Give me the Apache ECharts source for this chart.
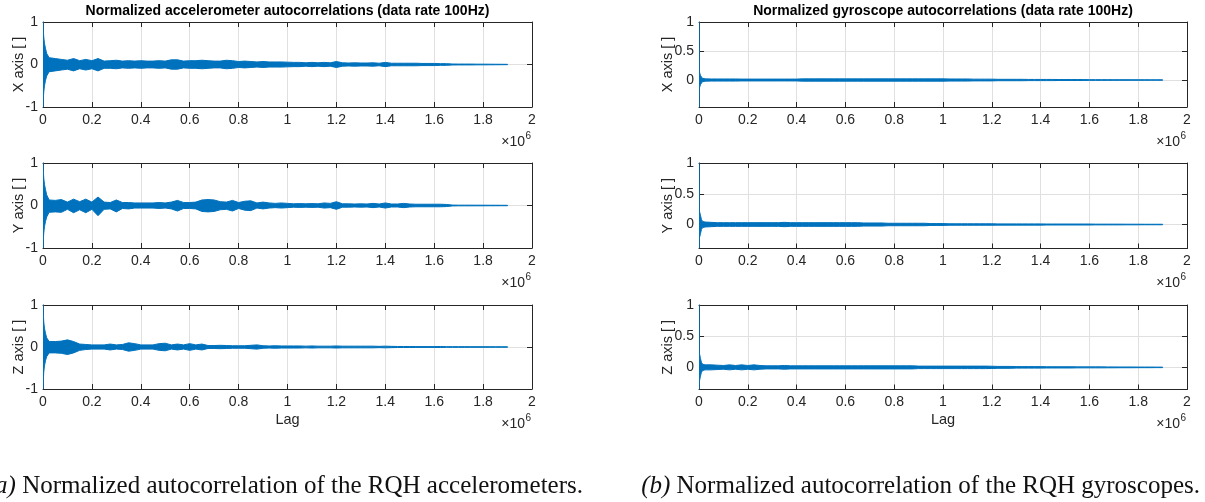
<!DOCTYPE html>
<html><head><meta charset="utf-8">
<script src="https://cdn.jsdelivr.net/npm/echarts@6/dist/echarts.min.js"></script>
<style>html,body{margin:0;padding:0;background:#fff}#c{width:1205px;height:502px}</style>
</head><body><div id="c"></div>
<script>
// Lag positions (units of 10^6)
const LAG = [0,0.001,0.003,0.006,0.01,0.015,
0.025,0.05,0.075,0.1,0.125,0.15,0.175,0.2,0.225,0.25,
0.275,0.3,0.325,0.35,0.375,0.4,0.425,0.45,0.475,0.5,
0.525,0.55,0.575,0.6,0.625,0.65,0.675,0.7,0.725,0.75,
0.775,0.8,0.825,0.85,0.875,0.9,0.925,0.95,0.975,1.0,
1.025,1.05,1.075,1.1,1.125,1.15,1.175,1.2,1.225,1.25,
1.275,1.3,1.325,1.35,1.375,1.4,1.425,1.45,1.475,1.5,
1.525,1.55,1.575,1.6,1.625,1.65,1.675,1.7,1.725,1.75,
1.775,1.8,1.825,1.85,1.875,1.9];

// Accelerometer autocorrelation envelopes (upper / lower)
const ACC_X_HI = [1,0.85,0.65,0.5,0.38,0.26,
0.16,0.14,0.12,0.1,0.14,0.09,0.12,0.09,0.14,0.08,
0.09,0.1,0.08,0.09,0.08,0.09,0.08,0.08,0.09,0.08,
0.11,0.11,0.08,0.09,0.09,0.1,0.09,0.08,0.08,0.1,
0.09,0.07,0.08,0.07,0.06,0.07,0.06,0.06,0.06,0.055,
0.05,0.05,0.04,0.05,0.04,0.05,0.04,0.07,0.04,0.035,
0.04,0.035,0.035,0.04,0.03,0.05,0.03,0.03,0.03,0.03,
0.03,0.025,0.025,0.025,0.02,0.02,0.012,0.01,0.01,0.01,
0.008,0.008,0.007,0.006,0.005,0.004];
const ACC_X_LO = [-1,-0.85,-0.65,-0.5,-0.38,-0.27,
-0.17,-0.15,-0.13,-0.11,-0.15,-0.1,-0.13,-0.1,-0.15,-0.09,
-0.09,-0.1,-0.08,-0.09,-0.08,-0.09,-0.08,-0.08,-0.09,-0.08,
-0.11,-0.11,-0.08,-0.09,-0.09,-0.1,-0.09,-0.08,-0.08,-0.1,
-0.09,-0.07,-0.08,-0.07,-0.06,-0.07,-0.06,-0.06,-0.06,-0.055,
-0.05,-0.05,-0.04,-0.05,-0.04,-0.05,-0.04,-0.07,-0.04,-0.035,
-0.04,-0.035,-0.035,-0.04,-0.03,-0.05,-0.03,-0.03,-0.03,-0.03,
-0.03,-0.025,-0.025,-0.025,-0.02,-0.02,-0.012,-0.01,-0.01,-0.01,
-0.008,-0.008,-0.007,-0.006,-0.005,-0.004];
const ACC_Y_HI = [1,0.85,0.65,0.5,0.38,0.25,
0.13,0.12,0.14,0.08,0.15,0.09,0.15,0.08,0.2,0.08,
0.07,0.13,0.07,0.07,0.06,0.06,0.06,0.06,0.07,0.06,
0.08,0.12,0.07,0.07,0.08,0.13,0.14,0.13,0.09,0.08,
0.12,0.07,0.1,0.11,0.06,0.08,0.06,0.05,0.06,0.05,
0.04,0.045,0.04,0.045,0.04,0.06,0.05,0.09,0.04,0.04,
0.035,0.04,0.035,0.05,0.035,0.06,0.035,0.035,0.05,0.035,
0.03,0.03,0.03,0.03,0.03,0.025,0.01,0.008,0.008,0.008,
0.007,0.007,0.006,0.006,0.005,0.005];
const ACC_Y_LO = [-1,-0.85,-0.65,-0.5,-0.38,-0.27,
-0.16,-0.15,-0.16,-0.09,-0.17,-0.1,-0.17,-0.09,-0.24,-0.09,
-0.08,-0.15,-0.07,-0.08,-0.06,-0.06,-0.06,-0.06,-0.07,-0.06,
-0.08,-0.13,-0.07,-0.07,-0.08,-0.14,-0.15,-0.14,-0.1,-0.09,
-0.13,-0.07,-0.11,-0.12,-0.06,-0.08,-0.06,-0.05,-0.06,-0.05,
-0.04,-0.045,-0.04,-0.045,-0.04,-0.06,-0.05,-0.09,-0.04,-0.04,
-0.035,-0.04,-0.035,-0.05,-0.035,-0.06,-0.035,-0.035,-0.05,-0.035,
-0.03,-0.03,-0.03,-0.03,-0.03,-0.025,-0.01,-0.008,-0.008,-0.008,
-0.007,-0.007,-0.006,-0.006,-0.005,-0.005];
const ACC_Z_HI = [1,0.85,0.6,0.45,0.33,0.22,
0.13,0.13,0.14,0.17,0.13,0.07,0.06,0.05,0.05,0.05,
0.07,0.05,0.06,0.1,0.08,0.05,0.05,0.05,0.08,0.09,
0.05,0.07,0.05,0.08,0.05,0.07,0.035,0.035,0.04,0.035,
0.03,0.03,0.03,0.04,0.05,0.03,0.025,0.03,0.025,0.025,
0.025,0.025,0.02,0.025,0.02,0.02,0.02,0.025,0.02,0.02,
0.02,0.02,0.02,0.02,0.015,0.02,0.015,0.012,0.012,0.012,
0.01,0.01,0.01,0.01,0.012,0.008,0.008,0.008,0.008,0.007,
0.007,0.006,0.006,0.005,0.005,0.004];
const ACC_Z_LO = [-1,-0.85,-0.6,-0.45,-0.33,-0.23,
-0.14,-0.14,-0.15,-0.18,-0.14,-0.08,-0.06,-0.05,-0.05,-0.05,
-0.07,-0.05,-0.06,-0.1,-0.08,-0.05,-0.05,-0.05,-0.08,-0.09,
-0.05,-0.07,-0.05,-0.08,-0.05,-0.07,-0.035,-0.035,-0.04,-0.035,
-0.03,-0.03,-0.03,-0.04,-0.05,-0.03,-0.025,-0.03,-0.025,-0.025,
-0.025,-0.025,-0.02,-0.025,-0.02,-0.02,-0.02,-0.025,-0.02,-0.02,
-0.02,-0.02,-0.02,-0.02,-0.015,-0.02,-0.015,-0.012,-0.012,-0.012,
-0.01,-0.01,-0.01,-0.01,-0.012,-0.008,-0.008,-0.008,-0.008,-0.007,
-0.007,-0.006,-0.006,-0.005,-0.005,-0.004];

// Gyroscope autocorrelation envelopes (upper / lower)
const GYR_X_HI = [1,0.17,0.12,0.08,0.05,0.03,
0.02,0.018,0.018,0.018,0.018,0.018,0.016,0.016,0.016,0.016,
0.016,0.016,0.016,0.016,0.016,0.016,0.02,0.02,0.02,0.02,
0.02,0.02,0.02,0.02,0.02,0.02,0.02,0.02,0.02,0.02,
0.02,0.02,0.02,0.02,0.02,0.02,0.02,0.02,0.02,0.02,
0.018,0.018,0.018,0.018,0.015,0.015,0.015,0.015,0.012,0.012,
0.012,0.012,0.012,0.01,0.01,0.01,0.01,0.01,0.008,0.008,
0.008,0.008,0.008,0.006,0.006,0.006,0.006,0.005,0.005,0.005,
0.004,0.004,0.004,0.003,0.003,0.003];
const GYR_X_LO = [-0.465,-0.15,-0.12,-0.08,-0.05,-0.03,
-0.02,-0.018,-0.018,-0.018,-0.018,-0.018,-0.016,-0.016,-0.016,-0.016,
-0.016,-0.016,-0.016,-0.016,-0.016,-0.016,-0.02,-0.02,-0.02,-0.02,
-0.02,-0.02,-0.02,-0.02,-0.02,-0.02,-0.02,-0.02,-0.02,-0.02,
-0.02,-0.02,-0.02,-0.02,-0.02,-0.02,-0.02,-0.02,-0.02,-0.02,
-0.018,-0.018,-0.018,-0.018,-0.015,-0.015,-0.015,-0.015,-0.012,-0.012,
-0.012,-0.012,-0.012,-0.01,-0.01,-0.01,-0.01,-0.01,-0.008,-0.008,
-0.008,-0.008,-0.008,-0.006,-0.006,-0.006,-0.006,-0.005,-0.005,-0.005,
-0.004,-0.004,-0.004,-0.003,-0.003,-0.003];
const GYR_Y_HI = [1,0.22,0.2,0.15,0.08,0.05,
0.04,0.035,0.03,0.03,0.03,0.03,0.03,0.03,0.03,0.03,
0.03,0.03,0.03,0.035,0.03,0.03,0.03,0.03,0.03,0.03,
0.03,0.03,0.03,0.03,0.03,0.03,0.025,0.025,0.025,0.025,
0.02,0.02,0.02,0.02,0.02,0.02,0.02,0.015,0.015,0.015,
0.012,0.012,0.012,0.012,0.012,0.012,0.012,0.012,0.01,0.01,
0.01,0.01,0.01,0.01,0.01,0.01,0.008,0.008,0.008,0.008,
0.008,0.008,0.008,0.008,0.006,0.006,0.006,0.006,0.006,0.005,
0.005,0.005,0.004,0.004,0.004,0.004];
const GYR_Y_LO = [-0.39,-0.22,-0.2,-0.15,-0.08,-0.05,
-0.04,-0.035,-0.03,-0.03,-0.03,-0.03,-0.03,-0.03,-0.03,-0.03,
-0.03,-0.03,-0.03,-0.035,-0.03,-0.03,-0.03,-0.03,-0.03,-0.03,
-0.03,-0.03,-0.03,-0.03,-0.03,-0.03,-0.025,-0.025,-0.025,-0.025,
-0.02,-0.02,-0.02,-0.02,-0.02,-0.02,-0.02,-0.015,-0.015,-0.015,
-0.012,-0.012,-0.012,-0.012,-0.012,-0.012,-0.012,-0.012,-0.01,-0.01,
-0.01,-0.01,-0.01,-0.01,-0.01,-0.01,-0.008,-0.008,-0.008,-0.008,
-0.008,-0.008,-0.008,-0.008,-0.006,-0.006,-0.006,-0.006,-0.006,-0.005,
-0.005,-0.005,-0.004,-0.004,-0.004,-0.004];
const GYR_Z_HI = [1,0.25,0.2,0.14,0.08,0.05,
0.04,0.04,0.035,0.03,0.04,0.03,0.04,0.03,0.04,0.03,
0.025,0.025,0.025,0.03,0.025,0.025,0.025,0.025,0.025,0.025,
0.025,0.025,0.025,0.025,0.025,0.025,0.025,0.025,0.025,0.025,
0.025,0.025,0.025,0.025,0.025,0.02,0.02,0.02,0.02,0.02,
0.02,0.02,0.02,0.02,0.02,0.02,0.02,0.018,0.015,0.015,
0.015,0.012,0.012,0.012,0.012,0.012,0.01,0.01,0.01,0.01,
0.01,0.008,0.008,0.008,0.008,0.008,0.007,0.007,0.006,0.006,
0.006,0.005,0.005,0.005,0.004,0.004];
const GYR_Z_LO = [-0.355,-0.23,-0.2,-0.14,-0.08,-0.05,
-0.04,-0.04,-0.035,-0.03,-0.04,-0.03,-0.04,-0.03,-0.04,-0.03,
-0.025,-0.025,-0.025,-0.03,-0.025,-0.025,-0.025,-0.025,-0.025,-0.025,
-0.025,-0.025,-0.025,-0.025,-0.025,-0.025,-0.025,-0.025,-0.025,-0.025,
-0.025,-0.025,-0.025,-0.025,-0.025,-0.02,-0.02,-0.02,-0.02,-0.02,
-0.02,-0.02,-0.02,-0.02,-0.02,-0.02,-0.02,-0.018,-0.015,-0.015,
-0.015,-0.012,-0.012,-0.012,-0.012,-0.012,-0.01,-0.01,-0.01,-0.01,
-0.01,-0.008,-0.008,-0.008,-0.008,-0.008,-0.007,-0.007,-0.006,-0.006,
-0.006,-0.005,-0.005,-0.005,-0.004,-0.004];

const X_TICKS = [0,0.2,0.4,0.6,0.8,1,1.2,1.4,1.6,1.8,2];
const Y_TICKS_ACC = [-1,0,1];
const Y_TICKS_GYR = [0,0.5,1];
const Y_NAMES = ['X axis [ ]','Y axis [ ]','Z axis [ ]'];
const TITLE_ACC = 'Normalized accelerometer autocorrelations (data rate 100Hz)';
const TITLE_GYR = 'Normalized gyroscope autocorrelations (data rate 100Hz)';
const X_NAME = 'Lag';
const CAPTION_A = ['(a)', 'Normalized autocorrelation of the RQH accelerometers.'];
const CAPTION_B = ['(b)', 'Normalized autocorrelation of the RQH gyroscopes.'];

const FONT = '"Liberation Sans", Arial, Helvetica, sans-serif';
const SERIF = '"Liberation Serif", "Times New Roman", serif';
const AX = '#262626';
const GRIDC = '#e0e0e0';
const BLUE = '#0072BD';

const panels = [
  {left:43, width:489, top:22, height:85, hi:ACC_X_HI, lo:ACC_X_LO, ymin:-1, yt:Y_TICKS_ACC, name:Y_NAMES[0]},
  {left:43, width:489, top:163, height:85, hi:ACC_Y_HI, lo:ACC_Y_LO, ymin:-1, yt:Y_TICKS_ACC, name:Y_NAMES[1]},
  {left:43, width:489, top:305, height:84, hi:ACC_Z_HI, lo:ACC_Z_LO, ymin:-1, yt:Y_TICKS_ACC, name:Y_NAMES[2]},
  {left:699, width:488, top:22, height:85, hi:GYR_X_HI, lo:GYR_X_LO, ymin:-0.465, yt:Y_TICKS_GYR, name:Y_NAMES[0]},
  {left:699, width:488, top:163, height:85.5, hi:GYR_Y_HI, lo:GYR_Y_LO, ymin:-0.39, yt:Y_TICKS_GYR, name:Y_NAMES[1]},
  {left:699, width:488, top:305, height:84.5, hi:GYR_Z_HI, lo:GYR_Z_LO, ymin:-0.355, yt:Y_TICKS_GYR, name:Y_NAMES[2]}
];

const fmt = v => String(+(+v).toFixed(2));
const grid = [], xAxis = [], yAxis = [], series = [], graphic = [];
const lineS = {show:true, onZero:false, lineStyle:{color:AX, width:1}};

panels.forEach((p, i) => {
  grid.push({left:p.left, top:p.top, width:p.width, height:p.height, show:false});
  xAxis.push({type:'value', gridIndex:i, min:0, max:2, position:'bottom',
    axisLine:lineS,
    axisTick:{inside:true, length:5, customValues:X_TICKS, lineStyle:{color:AX}},
    axisLabel:{customValues:X_TICKS, formatter:fmt, color:AX, fontSize:14, fontFamily:FONT, margin:6},
    splitLine:{show:true, lineStyle:{color:GRIDC, width:1}}});
  xAxis.push({type:'value', gridIndex:i, min:0, max:2, position:'top',
    axisLine:lineS,
    axisTick:{inside:true, length:5, customValues:X_TICKS, lineStyle:{color:AX}},
    axisLabel:{show:false}, splitLine:{show:false}});
  yAxis.push({type:'value', gridIndex:i, min:p.ymin, max:1, position:'left',
    axisLine:lineS,
    axisTick:{inside:true, length:5, customValues:p.yt, lineStyle:{color:AX}},
    axisLabel:{customValues:p.yt, formatter:fmt, color:AX, fontSize:14, fontFamily:FONT, margin:5},
    splitLine:{show:true, lineStyle:{color:GRIDC, width:1}}});
  yAxis.push({type:'value', gridIndex:i, min:p.ymin, max:1, position:'right',
    axisLine:lineS,
    axisTick:{inside:true, length:5, customValues:p.yt, lineStyle:{color:AX}},
    axisLabel:{show:false}, splitLine:{show:false}});
  const hi = p.hi, lo = p.lo;
  series.push({
    type:'custom', xAxisIndex:2*i, yAxisIndex:2*i, clip:true, z:3,
    encode:{x:0, y:[1,2]},
    data: LAG.map((l, k) => [l, lo[k], hi[k]]),
    renderItem: function (params, api) {
      if (params.dataIndex !== 0) return null;
      const pts = [];
      for (let k = 0; k < LAG.length; k++) pts.push(api.coord([LAG[k], hi[k]]));
      for (let k = LAG.length - 1; k >= 0; k--) pts.push(api.coord([LAG[k], lo[k]]));
      return {type:'polygon', shape:{points:pts}, style:{fill:BLUE, stroke:BLUE, lineWidth:1}};
    }
  });
  const ylx = p.left < 300 ? 18.5 : 668;
  graphic.push({type:'text', x:ylx, y:p.top + p.height/2, rotation:Math.PI/2,
    style:{text:p.name, fontSize:14.5, fontFamily:FONT, fill:AX, align:'center', verticalAlign:'middle', textAlign:'center', textVerticalAlign:'middle'}});
  const ex = p.left + p.width - 7;
  const ey = p.top + p.height + 35;
  graphic.push({type:'text', x:ex, y:ey,
    style:{text:'\u00d710', fontSize:14, fontFamily:FONT, fill:AX, align:'right', verticalAlign:'middle', textAlign:'right', textVerticalAlign:'middle'}});
  graphic.push({type:'text', x:ex + 0.5, y:ey - 6,
    style:{text:'6', fontSize:10, fontFamily:FONT, fill:AX, align:'left', verticalAlign:'middle', textAlign:'left', textVerticalAlign:'middle'}});
});

[[287.5, TITLE_ACC], [943, TITLE_GYR]].forEach(([x, t]) => {
  graphic.push({type:'text', x:x, y:11,
    style:{text:t, fontSize:14, fontWeight:'bold', fontFamily:FONT, fill:'#000', align:'center', verticalAlign:'middle', textAlign:'center', textVerticalAlign:'middle'}});
});
[287.5, 943].forEach(x => {
  graphic.push({type:'text', x:x, y:420,
    style:{text:X_NAME, fontSize:14.5, fontFamily:FONT, fill:AX, align:'center', verticalAlign:'middle', textAlign:'center', textVerticalAlign:'middle'}});
});
[[583, CAPTION_A], [1200, CAPTION_B]].forEach(([x, c]) => {
  graphic.push({type:'text', x:x, y:486,
    style:{text:'{i|' + c[0] + '}{n|\u00a0' + c[1] + '}', fill:'#111',
      align:'right', verticalAlign:'middle', textAlign:'right', textVerticalAlign:'middle',
      rich:{i:{fontStyle:'italic', fontSize:25, fontFamily:SERIF, fill:'#111'}, n:{fontSize:25, fontFamily:SERIF, fill:'#111'}}}});
});

const chart = echarts.init(document.getElementById('c'), null, {renderer:'canvas'});
chart.setOption({animation:false, backgroundColor:'#fff', grid, xAxis, yAxis, series, graphic});
</script></body></html>
